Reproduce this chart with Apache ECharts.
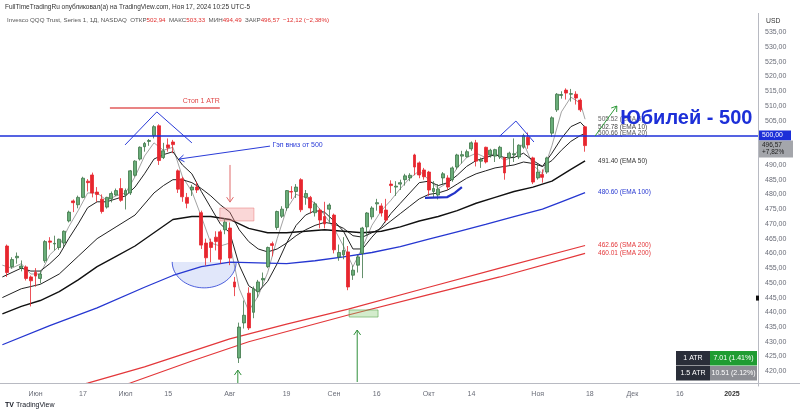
<!DOCTYPE html>
<html><head><meta charset="utf-8">
<script src="https://cdn.jsdelivr.net/npm/echarts@6/dist/echarts.min.js"></script>
<style>html,body{margin:0;padding:0;background:#fff}#c{width:800px;height:414px}</style>
</head><body><div id="c"></div>
<script>
// ---------- DATA ----------
const dates = [
'2024-05-22','2024-05-23','2024-05-24','2024-05-28','2024-05-29','2024-05-30','2024-05-31',
'2024-06-03','2024-06-04','2024-06-05','2024-06-06','2024-06-07','2024-06-10','2024-06-11','2024-06-12','2024-06-13','2024-06-14','2024-06-17','2024-06-18','2024-06-20','2024-06-21','2024-06-24','2024-06-25','2024-06-26','2024-06-27','2024-06-28',
'2024-07-01','2024-07-02','2024-07-03','2024-07-05','2024-07-08','2024-07-09','2024-07-10','2024-07-11','2024-07-12','2024-07-15','2024-07-16','2024-07-17','2024-07-18','2024-07-19','2024-07-22','2024-07-23','2024-07-24','2024-07-25','2024-07-26','2024-07-29','2024-07-30','2024-07-31',
'2024-08-01','2024-08-02','2024-08-05','2024-08-06','2024-08-07','2024-08-08','2024-08-09','2024-08-12','2024-08-13','2024-08-14','2024-08-15','2024-08-16','2024-08-19','2024-08-20','2024-08-21','2024-08-22','2024-08-23','2024-08-26','2024-08-27','2024-08-28','2024-08-29','2024-08-30',
'2024-09-03','2024-09-04','2024-09-05','2024-09-06','2024-09-09','2024-09-10','2024-09-11','2024-09-12','2024-09-13','2024-09-16','2024-09-17','2024-09-18','2024-09-19','2024-09-20','2024-09-23','2024-09-24','2024-09-25','2024-09-26','2024-09-27','2024-09-30',
'2024-10-01','2024-10-02','2024-10-03','2024-10-04','2024-10-07','2024-10-08','2024-10-09','2024-10-10','2024-10-11','2024-10-14','2024-10-15','2024-10-16','2024-10-17','2024-10-18','2024-10-21','2024-10-22','2024-10-23','2024-10-24','2024-10-25','2024-10-28','2024-10-29','2024-10-30','2024-10-31',
'2024-11-01','2024-11-04','2024-11-05','2024-11-06','2024-11-07','2024-11-08','2024-11-11','2024-11-12','2024-11-13','2024-11-14','2024-11-15',
'2024-11-18','2024-11-19','2024-11-20','2024-11-21','2024-11-22','2024-11-25','2024-11-26','2024-11-27','2024-11-29',
'2024-12-02','2024-12-03','2024-12-04','2024-12-05','2024-12-06','2024-12-09','2024-12-10','2024-12-11','2024-12-12','2024-12-13','2024-12-16','2024-12-17','2024-12-18','2024-12-19','2024-12-20','2024-12-23','2024-12-24','2024-12-26','2024-12-27','2024-12-30','2024-12-31',
'2025-01-02','2025-01-03','2025-01-06','2025-01-07','2025-01-08','2025-01-09'];

const tickLabels = {'2024-06-03':'Июн','2024-06-17':'17','2024-07-01':'Июл','2024-07-15':'15','2024-08-01':'Авг','2024-08-19':'19','2024-09-03':'Сен','2024-09-16':'16','2024-10-01':'Окт','2024-10-14':'14','2024-11-01':'Ноя','2024-11-18':'18','2024-12-02':'Дек','2024-12-16':'16','2025-01-02':'2025'};

// daily OHLC (index 0 = 2024-05-22, not drawn)
const opens = [null,
462.5,455.5,458.5,455.0,455.4,452.0,453.6,451.5,457.5,464.2,463.2,462.0,463.5,471.0,477.8,476.5,479.0,484.5,486.6,480.8,
478.4,475.7,478.5,479.8,482.0,479.8,480.5,486.5,492.0,496.2,498.0,500.0,503.3,492.5,496.8,497.8,488.0,485.3,479.0,481.5,
482.5,473.8,463.5,463.8,465.5,467.3,468.0,468.6,450.3,424.5,436.4,446.5,440.0,447.0,451.0,455.5,463.3,468.8,472.6,475.5,
481.0,481.0,485.0,479.0,479.0,473.8,474.7,472.5,475.0,473.0,458.8,459.5,460.5,452.6,456.0,460.0,469.0,472.4,476.8,476.1,
474.7,483.5,482.5,483.5,485.0,485.6,493.4,490.7,488.3,487.6,481.0,479.8,485.6,485.6,485.0,489.3,493.0,492.8,495.5,497.5,
491.3,496.0,493.4,493.0,492.7,492.4,492.4,493.5,492.7,496.0,499.4,492.4,485.6,486.8,487.6,500.8,508.7,513.6,515.4,514.0,
514.0,512.0,502.94];
const closes = [null,
453.5,457.9,459.0,455.7,451.5,450.7,452.3,453.0,464.0,463.8,463.4,464.8,467.5,474.0,477.2,479.0,485.5,484.0,480.5,480.0,
474.2,479.0,480.3,481.3,478.0,481.3,488.0,491.3,496.0,497.3,498.3,503.0,491.5,494.8,495.8,496.9,481.8,479.2,477.0,482.5,
481.5,462.8,458.5,462.0,464.0,458.0,470.6,458.4,448.6,435.0,439.0,434.7,448.0,450.3,451.5,462.0,462.7,474.2,475.0,481.3,
480.8,482.5,474.8,480.3,475.4,476.8,471.3,470.0,476.4,461.2,460.3,461.0,448.6,454.3,458.8,468.6,473.7,475.4,477.2,473.7,
471.3,483.0,482.8,484.0,486.3,486.5,489.3,486.6,486.0,481.5,482.0,481.8,487.0,482.5,489.0,493.4,493.5,494.5,497.5,491.3,
491.8,491.0,495.0,495.2,496.0,487.3,494.0,493.8,496.7,500.0,496.8,484.2,487.6,485.8,492.4,506.0,514.0,513.9,514.4,514.2,
512.7,508.7,496.57];
const lows = [null,
452.0,454.8,456.5,453.9,450.8,442.0,448.7,449.8,456.8,461.3,461.0,461.2,462.2,470.5,474.0,475.3,478.7,481.0,479.0,477.5,
473.5,475.2,477.3,479.5,477.5,474.9,479.8,486.0,491.5,494.5,496.5,499.0,490.0,492.0,494.5,494.0,480.5,477.5,475.3,479.5,
480.5,461.5,455.9,457.0,461.0,456.5,466.5,456.0,445.5,422.8,434.5,434.0,438.0,445.0,449.0,455.0,459.0,468.0,472.0,474.5,
478.5,478.8,474.0,476.5,473.5,472.5,468.5,468.5,470.5,460.0,457.5,458.0,447.5,451.0,453.5,451.6,466.0,471.5,474.5,472.5,
470.5,480.5,479.5,481.5,483.0,484.5,486.5,485.5,485.0,479.5,479.0,478.3,483.5,481.5,484.3,488.5,490.5,492.5,494.8,489.5,
489.0,490.5,492.5,491.0,492.0,485.0,490.0,491.0,492.0,495.5,495.5,483.5,485.0,484.0,487.0,499.5,508.0,512.5,512.2,511.5,
510.5,508.0,494.49];
const highs = [null,
463.0,458.7,460.3,457.6,455.9,452.5,455.0,454.2,464.5,465.5,466.0,465.0,467.8,474.5,478.3,479.6,486.0,485.2,487.4,482.5,
480.0,479.2,481.0,482.0,485.5,482.0,488.3,491.6,496.3,497.8,498.8,503.5,503.8,497.5,499.0,498.5,488.5,486.0,480.5,483.3,
484.3,474.5,465.0,465.0,467.5,468.0,472.0,470.5,452.0,436.5,444.0,448.5,448.8,451.0,453.5,462.3,464.0,474.5,476.0,481.5,
482.8,483.5,485.5,481.5,479.5,477.5,475.3,477.5,477.0,473.5,463.0,465.5,462.5,455.8,459.5,469.0,474.0,476.0,478.5,477.0,
478.5,484.8,484.5,485.0,487.0,487.2,493.8,491.2,489.0,488.0,484.5,483.5,487.6,486.5,489.5,493.8,494.8,495.2,498.0,498.5,
492.5,496.2,495.5,495.5,496.5,492.8,494.5,499.0,497.0,500.6,501.0,492.8,490.2,488.5,492.8,506.5,514.4,515.0,516.0,515.8,
515.0,512.6,503.33];

// moving averages: [bar index, value]
const ema5 = [[0,456],[2,455],[4,456.5],[6,453],[8,453],[10,459.5],[12,462.5],[14,469],[16,474.5],[18,480.5],[20,480.5],[22,478],[24,479.5],[26,480.5],[28,486],[30,493],[32,497.5],[34,495],[36,496],[38,486],[40,481],[42,472.5],[44,463.5],[46,462.5],[48,463.5],[50,448],[52,440.5],[54,445.5],[56,453.5],[58,465],[60,475],[62,480],[64,479],[66,477],[68,473],[70,468.5],[72,462.5],[74,455.5],[76,462],[78,469.5],[80,474.5],[82,478],[84,482],[86,485.5],[88,488],[90,485],[92,482],[94,484],[96,489],[98,492.5],[100,494],[102,492.5],[104,494],[106,491.5],[108,493],[110,497.5],[112,490],[114,487],[116,496.5],[118,508],[120,513],[122,511],[123,505.52]];
const ema10 = [[0,452],[4,455],[6,454],[8,454],[10,456.5],[12,459.5],[14,465],[16,470],[18,475.5],[20,477.5],[22,477.5],[24,478.5],[26,479.5],[28,482.5],[30,487],[32,492],[34,493.5],[36,494.5],[38,490],[40,487],[42,481],[44,475.5],[46,470],[48,467],[50,456],[52,449],[54,447],[56,450.5],[58,456.5],[60,463.5],[62,469.5],[64,473],[66,474.5],[68,474],[70,471],[72,467.5],[74,461.5],[76,461.5],[78,465.5],[80,469],[82,473.5],[84,477],[86,480.5],[88,484],[90,484.5],[92,483],[94,484],[96,486.5],[98,489.5],[100,491.5],[102,492.5],[104,493.5],[106,492.5],[108,492.5],[110,494],[112,491.5],[114,489.5],[116,494],[118,499],[120,503],[122,504.5],[123,502.78]];
const ema20 = [[0,445],[4,448],[8,449.5],[12,453],[16,459],[20,465],[24,469],[28,473],[32,480.5],[34,483],[36,485],[38,485],[40,484],[42,482],[44,479.5],[46,476.5],[48,474],[50,468],[52,464],[54,461.5],[56,460.5],[58,461.5],[60,463.5],[62,466],[64,468],[66,469.5],[68,470.5],[70,470],[72,468.5],[74,466],[76,465.5],[78,467],[80,468.5],[82,471],[84,473.5],[86,476],[88,478.5],[90,480],[92,480.5],[94,481.5],[96,483.5],[98,485.5],[100,487],[102,488],[104,489],[106,489.5],[108,490],[110,491],[112,490.5],[114,489.5],[116,491.5],[118,495],[120,498],[122,500],[123,500.66]];
const ema50 = [[0,439.5],[4,442],[8,444],[12,447],[16,451],[20,455.5],[24,459],[28,462.5],[32,467],[36,471.5],[40,472.5],[44,472.5],[48,471.5],[52,468.5],[56,467],[60,467],[64,467.5],[68,468],[72,467.5],[76,467],[80,467.5],[84,469],[88,471],[92,472.5],[96,474.5],[100,477],[104,479],[108,481],[112,482.5],[116,484.5],[120,488.5],[123,491.4]];
const ema100 = [[0,429],[10,435.5],[20,441.5],[30,448.5],[36,452.5],[42,455.5],[48,457],[54,456.8],[60,456.5],[66,457.5],[72,458.8],[78,460.3],[84,462.3],[90,464.8],[96,467.3],[102,469.8],[108,472.5],[114,475],[118,477.5],[123,480.6]];
const sma200 = [[0,408.5],[18,416],[30,421.5],[48,431],[60,436],[73,441.1],[90,448.5],[105,455],[123,462.66]];
const ema200 = [[0,404],[27,416],[40,423.5],[52,430],[73,439.1],[90,446],[105,452],[123,460.01]];

const lineNames = {ema5:'EMA 5', ema10:'EMA 10', ema20:'EMA 20', ema50:'EMA 50', ema100:'EMA 100', sma200:'SMA 200', ema200:'EMA 200'};
const levelPrice = 500;
const lastClose = 496.57, changePct = '+7,82%';
const header1 = 'FullTimeTradingRu опубликовал(а) на TradingView.com, Ноя 17, 2024 10:25 UTC-5';
const ohlcHead = {o:'502,94', h:'503,33', l:'494,49', c:'496,57', ch:'−12,12 (−2,38%)'};
const atrRows = [['1 ATR','7.01 (1.41%)'],['1.5 ATR','10.51 (2.12%)']];

// ---------- CHART ----------
const FONT = 'Liberation Sans, Arial, sans-serif';
const chart = echarts.init(document.getElementById('c'));
const candleData = opens.map((o,i)=> o==null ? '-' : [o, closes[i], lows[i], highs[i]]);

function maSeries(key, data, color, width, labelColor){
  return {type:'line', name:key, data:data, showSymbol:false, symbol:'none', silent:true,
    lineStyle:{color:color, width:width}, z:3,
    endLabel:{show:true, distance:13, fontSize:6.5, fontFamily:FONT, color:labelColor,
      formatter:p=> p.value[1].toFixed(2)+' ('+lineNames[key]+')'}};
}

chart.setOption({
  animation:false,
  backgroundColor:'#ffffff',
  grid:{left:0, right:42, top:17.6, bottom:28},
  xAxis:{type:'category', data:dates, boundaryGap:true,
    axisLine:{show:false}, axisTick:{show:false}, splitLine:{show:false},
    axisLabel:{interval:(i,v)=> v in tickLabels, formatter:v=> v==='2025-01-02' ? '{y|2025}' : tickLabels[v],
      fontSize:7, color:'#6a6d78', fontFamily:FONT, margin:5,
      rich:{y:{fontSize:7, fontWeight:'bold', color:'#333', fontFamily:FONT}}}},
  yAxis:{type:'value', position:'right', min:415, max:540, interval:5, scale:true,
    axisLine:{show:true, lineStyle:{color:'#b8bac2'}}, axisTick:{show:false}, splitLine:{show:false},
    axisLabel:{fontSize:7, color:'#6a6d78', fontFamily:FONT, margin:7,
      formatter:v=> (v>535 || v<420) ? '' : v.toFixed(2).replace('.',',')}},
  series:[
    {type:'candlestick', data:candleData, barWidth:3.4, z:4,
      itemStyle:{color:'#69ad79', color0:'#e7262e', borderColor:'#3d7548', borderColor0:'#e7262e', borderWidth:0.8},
      markLine:{symbol:'none', silent:true, data:[{yAxis:levelPrice}], label:{show:false},
        lineStyle:{color:'#1c2fd8', width:1.6, type:'solid'}}},
    maSeries('ema5', ema5, '#8a8a8a', 0.8, '#666'),
    maSeries('ema10', ema10, '#222', 1, '#444'),
    maSeries('ema20', ema20, '#222', 1, '#555'),
    maSeries('ema50', ema50, '#111', 1.4, '#333'),
    maSeries('ema100', ema100, '#2637d1', 1.3, '#2637d1'),
    maSeries('sma200', sma200, '#e3373a', 1.2, '#e3373a'),
    maSeries('ema200', ema200, '#e3373a', 1.2, '#e3373a')
  ]
});

// ---------- ANNOTATIONS (data coordinates) ----------
const xa = chart.convertToPixel({xAxisIndex:0}, 0), xb = chart.convertToPixel({xAxisIndex:0}, 100);
const X = i => xa + (xb-xa)*i/100;
const Y = v => chart.convertToPixel({yAxisIndex:0}, v);
const P = (i,v) => [X(i), Y(v)];
function head(p1,p2,len,spr){const a=Math.atan2(p2[1]-p1[1],p2[0]-p1[0]);
  return [[p2[0]-len*Math.cos(a-spr),p2[1]-len*Math.sin(a-spr)],p2,[p2[0]-len*Math.cos(a+spr),p2[1]-len*Math.sin(a+spr)]];}
function arrow(p1,p2,color,w,len){return [
  {type:'polyline', shape:{points:[p1,p2]}, style:{stroke:color, lineWidth:w, fill:null}, z:50},
  {type:'polyline', shape:{points:head(p1,p2,len,0.6)}, style:{stroke:color, lineWidth:w, fill:null}, z:50}];}
function txt(x,y,t,opt){return Object.assign({type:'text', x:x, y:y, z:60,
  style:Object.assign({text:t, fontFamily:FONT, fontSize:7, fill:'#333', textVerticalAlign:'middle', verticalAlign:'middle'}, opt||{})});}

const g = [];
// bottom strip + axis line
g.push({type:'rect', shape:{x:0,y:383.5,width:758,height:4}, style:{fill:'#fff'}, z:40});
g.push({type:'line', shape:{x1:0,y1:383.5,x2:800,y2:383.5}, style:{stroke:'#b8bac2', lineWidth:1}, z:41});
g.push({type:'rect', shape:{x:0,y:0,width:800,height:29}, style:{fill:'#fff'}, z:40});
g.push({type:'line', shape:{x1:758.5,y1:13,x2:758.5,y2:29}, style:{stroke:'#b8bac2', lineWidth:1}, z:41});
g.push(txt(5,7,header1,{fontSize:6.5, fill:'#333'}));
g.push({type:'text', x:7, y:20, z:60, style:{fontFamily:FONT, fontSize:6.2, verticalAlign:'middle',
  text:'{a|Invesco QQQ Trust, Series 1, 1Д, NASDAQ  ОТКР}{r|'+ohlcHead.o+'}{a|  МАКС}{r|'+ohlcHead.h+'}{a|  МИН}{r|'+ohlcHead.l+'}{a|  ЗАКР}{r|'+ohlcHead.c+'}{r|  '+ohlcHead.ch+'}',
  rich:{a:{fill:'#555', fontSize:6.2, fontFamily:FONT}, r:{fill:'#e0302f', fontSize:6.2, fontFamily:FONT}}}});
g.push(txt(766,21,'USD',{fontSize:6.8, fill:'#333'}));

// stop line and text
g.push({type:'polyline', shape:{points:[P(22.7,509.3),P(45.9,509.3)]}, style:{stroke:'#e25b5b', lineWidth:1.5, fill:null}, z:50});
g.push(txt(X(45.9), Y(511.8), 'Стоп 1 АТR', {fill:'#e04848', textAlign:'right', align:'right'}));
// triangles
g.push({type:'polyline', shape:{points:[P(25.9,496.8),P(32.6,508.0),P(40.0,497.5)]}, style:{stroke:'#2a3bd8', lineWidth:1, fill:null}, z:50});
g.push({type:'polyline', shape:{points:[P(105.0,499.8),P(108.4,504.9),P(112.2,497.8)]}, style:{stroke:'#2a3bd8', lineWidth:1, fill:null}, z:50});
// gap arrow + text
g.push(...arrow(P(56.5,496.4), P(37.3,492.0), '#2a3bd8', 1, 6));
g.push(txt(X(57), Y(496.6), 'Гэп вниз от 500', {fill:'#2a3bd8'}));
// red arrow down
g.push(...arrow(P(48.05,490.0), P(48.05,477.4), '#e06a6a', 1, 6));
// pink rect
(function(){const a=P(45.9,475.4), b=P(53.1,471.0);
  g.push({type:'rect', shape:{x:a[0],y:a[1],width:b[0]-a[0],height:b[1]-a[1]}, style:{fill:'rgba(242,140,140,0.35)', stroke:'rgba(230,110,110,0.6)', lineWidth:0.8}, z:30});})();
// cup
(function(){const c=P(42.6,457.1); const rx=X(6.75)-X(0); const ry=Y(457.1-8.8)-c[1]; const pts=[];
  for(let k=0;k<=40;k++){const t=Math.PI*k/40; pts.push([c[0]+rx*Math.cos(t), c[1]+ry*Math.sin(t)]);}
  g.push({type:'polygon', shape:{points:pts}, style:{fill:'rgba(90,120,230,0.18)', stroke:null}, z:2});
  g.push({type:'polyline', shape:{points:pts}, style:{stroke:'#3b4fd8', lineWidth:0.9, fill:null}, z:30});})();
// green rect
(function(){const a=P(73.2,440.8), b=P(79.3,438.4);
  g.push({type:'rect', shape:{x:a[0],y:a[1],width:b[0]-a[0],height:b[1]-a[1]}, style:{fill:'rgba(130,200,110,0.35)', stroke:'rgba(80,160,70,0.7)', lineWidth:0.8}, z:30});})();
// green arrows
g.push(...arrow([X(74.9),382], P(74.9,434.0), '#2f8f3a', 1, 6));
g.push(...arrow([X(49.7),383], P(49.7,420.4), '#2f8f3a', 1, 6));
g.push(...arrow(P(125.1,499.8), P(129.7,510.0), '#2f9a3a', 1, 6));
// EMA touch highlight
g.push({type:'polyline', shape:{points:[P(89.2,478.8),P(93.9,479.1),P(95.5,480.5),P(97.0,482.5)]}, style:{stroke:'#2233c8', lineWidth:2.2, fill:null}, z:30});
// big title
g.push(txt(X(130.4), Y(505.9), 'Юбилей - 500', {fontSize:20, fontWeight:'bold', fill:'#1c2fd8'}));
// price labels on axis
(function(){const y5=Y(levelPrice);
  g.push({type:'rect', shape:{x:759,y:y5-5,width:32,height:10}, style:{fill:'#1c2fd8'}, z:60});
  g.push(txt(762,y5,levelPrice.toFixed(2).replace('.',','),{fill:'#fff', fontSize:6.8}));
  const yc=Y(lastClose);
  g.push({type:'rect', shape:{x:759,y:yc-5,width:34,height:17}, style:{fill:'#a4a6ab'}, z:60});
  g.push(txt(762,yc-0.5,lastClose.toFixed(2).replace('.',','),{fill:'#222', fontSize:6.5}));
  g.push(txt(762,yc+7,changePct,{fill:'#222', fontSize:6.5}));
  g.push({type:'rect', shape:{x:756,y:Y(445)-2,width:3,height:5}, style:{fill:'#111'}, z:60});})();
// ATR table
atrRows.forEach((r,k)=>{const y=351+k*15;
  g.push({type:'rect', shape:{x:676,y:y,width:34,height:14.5}, style:{fill:'#2a2e39'}, z:60});
  g.push({type:'rect', shape:{x:710,y:y,width:47,height:14.5}, style:{fill:k===0?'#1f9c32':'#8c8e94'}, z:60});
  g.push(txt(693,y+7.3,r[0],{fill:'#fff', fontSize:7, textAlign:'center', align:'center'}));
  g.push(txt(733.5,y+7.3,r[1],{fill:'#fff', fontSize:7, textAlign:'center', align:'center'}));});
// logo
g.push(txt(5,405,'TV',{fontSize:7, fontWeight:'bold', fill:'#131722'}));
g.push(txt(16,405,'TradingView',{fontSize:7, fill:'#131722'}));

chart.setOption({graphic:g});
</script></body></html>
